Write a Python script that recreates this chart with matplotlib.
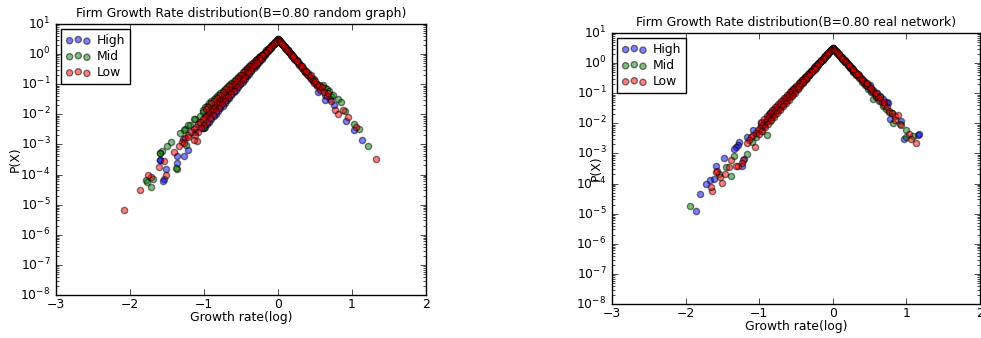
import numpy as np
import matplotlib
matplotlib.use('Agg')
import matplotlib.pyplot as plt

# data: x = growth rate (log), *_lp = log10 of P(X)

# ---------------- random graph ----------------
rg_high_x = [0.0, -0.02, -0.04, -0.06, -0.08, -0.10, -0.12, -0.14, -0.16, -0.18, -0.20, -0.22, -0.24, -0.26,
             -0.28, -0.30, -0.33, -0.36, -0.39, -0.42, -0.45, -0.48, -0.51, -0.54, -0.57, -0.60, -0.63, -0.66,
             -0.69, -0.72, -0.75, -0.78, -0.81, -0.84, -0.87, -0.90, -0.93, -0.96,
             -0.40, -0.50, -0.60, -0.70, -0.80, -0.90,
             -1.00, -1.01, -1.12, -1.22, -1.27, -1.29, -1.36, -1.37, -1.51, -1.54, -1.59, -1.60, -1.55,
             0.01, 0.03, 0.05, 0.07, 0.09, 0.11, 0.13, 0.15, 0.17, 0.19, 0.22, 0.25, 0.28, 0.31, 0.34, 0.37,
             0.40, 0.43, 0.47, 0.52, 0.545, 0.57, 0.64, 0.64, 0.70, 0.75, 0.92, 1.03, 1.14]
rg_high_lp = [0.50, 0.44, 0.38, 0.32, 0.27, 0.21, 0.15, 0.09, 0.03, -0.03, -0.09, -0.15, -0.21, -0.27,
              -0.33, -0.38, -0.47, -0.56, -0.65, -0.74, -0.83, -0.92, -1.00, -1.09, -1.18, -1.27, -1.36, -1.45,
              -1.53, -1.62, -1.71, -1.80, -1.89, -1.98, -2.07, -2.15, -2.24, -2.33,
              -0.55, -0.82, -1.08, -1.35, -1.60, -1.88,
              -2.47, -2.47, -2.59, -3.19, -3.37, -2.83, -3.37, -3.61, -3.83, -4.14, -3.52, -3.50, -4.20,
              0.47, 0.41, 0.35, 0.29, 0.24, 0.18, 0.12, 0.06, 0.00, -0.06, -0.14, -0.23, -0.32, -0.41, -0.50, -0.59,
              -0.68, -0.75, -0.86, -1.03, -1.25, -1.12, -1.36, -1.52, -1.50, -1.69, -2.21, -2.51, -2.85]

rg_mid_x = [0.0, -0.02, -0.04, -0.06, -0.08, -0.10, -0.12, -0.14, -0.16, -0.18, -0.20, -0.22, -0.24, -0.26,
            -0.28, -0.30, -0.33, -0.36, -0.39, -0.42, -0.45, -0.48, -0.51, -0.54, -0.57, -0.60, -0.63, -0.66,
            -0.69, -0.72, -0.75, -0.78, -0.81, -0.84, -0.87, -0.90, -0.93, -0.96, -0.99, -1.02,
            -0.35, -0.45, -0.55, -0.65, -0.75, -0.85, -0.95, -1.05,
            -1.02, -1.05, -0.99, -1.12, -1.13, -1.19, -1.21, -1.24, -1.26, -1.27, -1.32, -1.37, -1.38, -1.45,
            -1.50, -1.57, -1.59, -1.60, -1.69, -1.72, -1.78, -1.77,
            0.01, 0.03, 0.05, 0.07, 0.09, 0.11, 0.13, 0.15, 0.17, 0.19, 0.22, 0.25, 0.28, 0.31, 0.34, 0.37,
            0.40, 0.43, 0.46, 0.49, 0.53, 0.57, 0.61, 0.63, 0.66, 0.69, 0.72, 0.74, 0.81, 0.85, 0.90, 1.03,
            1.09, 1.22]
rg_mid_lp = [0.50, 0.45, 0.40, 0.35, 0.31, 0.26, 0.21, 0.16, 0.12, 0.07, 0.02, -0.03, -0.07, -0.11,
             -0.15, -0.20, -0.26, -0.33, -0.40, -0.47, -0.54, -0.61, -0.68, -0.75, -0.81, -0.88, -0.95, -1.02,
             -1.09, -1.16, -1.23, -1.29, -1.36, -1.43, -1.50, -1.57, -1.64, -1.71, -1.77, -1.85,
             -0.43, -0.69, -0.96, -1.22, -1.49, -1.75, -2.02, -2.28,
             -1.91, -2.05, -2.41, -2.17, -2.17, -2.36, -2.35, -3.02, -2.50, -2.52, -2.63, -3.81, -3.79, -2.91,
             -3.05, -3.23, -3.27, -3.27, -4.14, -4.40, -4.18, -4.24,
             0.47, 0.42, 0.36, 0.30, 0.24, 0.19, 0.13, 0.07, 0.02, -0.04, -0.13, -0.21, -0.30, -0.38, -0.47, -0.55,
             -0.64, -0.73, -0.81, -0.84, -0.98, -1.06, -1.03, -1.12, -1.15, -1.22, -1.40, -1.35, -1.49, -1.60, -1.89, -2.32,
             -2.49, -3.04]

rg_low_x = [0.0, -0.01, -0.03, -0.05, -0.07, -0.09, -0.11, -0.13, -0.15, -0.17, -0.19, -0.21, -0.23, -0.25,
            -0.27, -0.29, -0.31, -0.33, -0.35, -0.37, -0.39, -0.41, -0.43, -0.45, -0.47, -0.49, -0.51, -0.53,
            -0.55, -0.57, -0.59, -0.61, -0.63, -0.65, -0.67, -0.69, -0.71, -0.73, -0.75, -0.77, -0.79, -0.81,
            -0.83, -0.85, -0.87, -0.89, -0.91, -0.93, -0.95, -0.97, -0.99, -1.02, -1.05, -1.08, -1.11, -1.14,
            -1.18, -1.22, -1.26, -1.30,
            -0.02, -0.04, -0.06, -0.08, -0.10, -0.12, -0.14, -0.16, -0.18, -0.20, -0.22, -0.24, -0.26, -0.28,
            -0.30, -0.32, -0.34, -0.36, -0.38, -0.40,
            -0.22, -0.26, -0.30, -0.34, -0.38, -0.42, -0.46, -0.50, -0.54, -0.58, -0.62, -0.66, -0.70, -0.74,
            -0.78, -0.82, -0.86, -0.90, -0.94, -0.98,
            -0.24, -0.28, -0.32, -0.36, -0.40, -0.44, -0.48, -0.52, -0.56, -0.60, -0.64, -0.68, -0.72, -0.76,
            -0.80, -0.84, -0.88, -0.92, -0.96, -1.00, -1.04, -1.08, -1.12,
            -1.09, -1.14, -1.21, -1.27, -1.34, -1.41, -1.51, -1.54, -1.61, -1.72, -1.76, -1.865, -2.08,
            0.01, 0.02, 0.03, 0.05, 0.07, 0.09, 0.11, 0.13, 0.15, 0.17, 0.19, 0.21, 0.23, 0.25, 0.27, 0.29,
            0.31, 0.33, 0.35, 0.37, 0.39, 0.41, 0.43, 0.45, 0.47, 0.49, 0.51, 0.53,
            0.04, 0.06, 0.08, 0.10, 0.12, 0.14, 0.16, 0.18, 0.20, 0.22,
            0.20, 0.26, 0.32, 0.38, 0.44, 0.50, 0.56,
            0.57, 0.60, 0.62, 0.66, 0.68, 0.71, 0.77, 0.81, 0.88, 0.95, 1.06, 1.32]
rg_low_lp = [0.50, 0.47, 0.42, 0.37, 0.32, 0.26, 0.21, 0.16, 0.11, 0.05, 0.00, -0.05, -0.10, -0.16,
             -0.21, -0.26, -0.31, -0.36, -0.42, -0.47, -0.52, -0.57, -0.63, -0.68, -0.73, -0.78, -0.84, -0.89,
             -0.94, -0.99, -1.05, -1.10, -1.15, -1.20, -1.26, -1.31, -1.36, -1.41, -1.47, -1.52, -1.57, -1.62,
             -1.67, -1.73, -1.78, -1.83, -1.88, -1.94, -1.99, -2.04, -2.09, -2.17, -2.25, -2.33, -2.41, -2.49,
             -2.59, -2.70, -2.80, -2.91,
             0.45, 0.40, 0.34, 0.29, 0.24, 0.19, 0.13, 0.08, 0.03, -0.02, -0.08, -0.13, -0.18, -0.23,
             -0.29, -0.34, -0.39, -0.44, -0.50, -0.55,
             -0.02, -0.12, -0.21, -0.31, -0.40, -0.50, -0.59, -0.69, -0.79, -0.88, -0.98, -1.07, -1.17, -1.26,
             -1.36, -1.45, -1.55, -1.64, -1.74, -1.83,
             -0.18, -0.30, -0.41, -0.53, -0.64, -0.75, -0.87, -0.98, -1.10, -1.21, -1.32, -1.44, -1.55, -1.67,
             -1.78, -1.89, -2.01, -2.12, -2.24, -2.35, -2.46, -2.58, -2.69,
             -2.88, -2.85, -2.74, -2.96, -3.05, -3.24, -4.03, -3.55, -3.74, -4.07, -4.03, -4.52, -5.19,
             0.47, 0.44, 0.41, 0.35, 0.29, 0.23, 0.18, 0.12, 0.06, 0.00, -0.06, -0.12, -0.18, -0.24, -0.30, -0.36,
             -0.41, -0.47, -0.53, -0.59, -0.65, -0.71, -0.77, -0.83, -0.89, -0.95, -1.00, -1.06,
             0.38, 0.32, 0.26, 0.21, 0.15, 0.09, 0.03, -0.03, -0.09, -0.15,
             -0.05, -0.22, -0.38, -0.55, -0.71, -0.88, -1.04,
             -1.19, -1.10, -1.25, -1.38, -1.30, -1.55, -1.86, -1.99, -1.86, -2.10, -2.41, -3.47]

# ---------------- real network ----------------
rn_high_x = [0.0, -0.02, -0.04, -0.06, -0.08, -0.10, -0.12, -0.14, -0.16, -0.18, -0.20, -0.22, -0.24, -0.26,
             -0.28, -0.30, -0.33, -0.36, -0.39, -0.42, -0.45, -0.48, -0.51, -0.54, -0.57, -0.60, -0.64, -0.68,
             -0.72, -0.76, -0.80, -0.84, -0.87, -0.90, -0.97, -1.08, -1.17, -1.27, -1.29, -1.32, -1.34, -1.21,
             -1.24, -1.48, -1.59, -1.62, -1.67, -1.73, -1.80, -1.86,
             0.02, 0.04, 0.06, 0.08, 0.10, 0.12, 0.14, 0.16, 0.18, 0.20, 0.23, 0.26, 0.29, 0.32, 0.35, 0.38,
             0.41, 0.44, 0.48, 0.51, 0.55, 0.60, 0.64, 0.68, 0.73, 0.75, 0.78, 0.93, 0.97, 1.16, 1.175]
rn_high_lp = [0.50, 0.45, 0.40, 0.35, 0.30, 0.25, 0.19, 0.15, 0.09, 0.04, -0.01, -0.06, -0.11, -0.16,
              -0.22, -0.26, -0.34, -0.42, -0.49, -0.57, -0.64, -0.72, -0.79, -0.87, -0.94, -1.02, -1.12, -1.22,
              -1.32, -1.43, -1.52, -1.62, -1.70, -1.83, -2.00, -2.22, -2.45, -2.62, -2.72, -2.80, -2.86, -3.20,
              -3.41, -3.16, -3.42, -3.86, -3.88, -4.02, -4.36, -4.90,
              0.45, 0.40, 0.35, 0.30, 0.24, 0.19, 0.14, 0.09, 0.04, -0.02, -0.09, -0.17, -0.25, -0.33, -0.40, -0.48,
              -0.56, -0.63, -0.74, -0.73, -0.88, -1.00, -1.08, -1.18, -1.28, -1.34, -1.87, -1.91, -2.51, -2.39, -2.36]

rn_mid_x = [0.0, -0.02, -0.05, -0.08, -0.11, -0.14, -0.17, -0.20, -0.23, -0.26, -0.29, -0.32, -0.35, -0.38,
            -0.41, -0.44, -0.47, -0.50, -0.54, -0.58, -0.62, -0.66, -0.70, -0.74, -0.78, -0.82, -0.86, -0.90,
            -0.93, -0.98, -1.04, -1.10, -1.16, -1.34, -1.39, -1.45, -1.55, -1.94,
            0.02, 0.05, 0.08, 0.11, 0.14, 0.17, 0.20, 0.24, 0.28, 0.32, 0.36, 0.40, 0.44, 0.48, 0.52, 0.55,
            0.58, 0.63, 0.68, 0.72, 0.76, 0.81, 0.82, 0.91, 0.99, 1.00, 1.09]
rn_mid_lp = [0.50, 0.44, 0.36, 0.27, 0.19, 0.11, 0.02, -0.06, -0.15, -0.23, -0.31, -0.40, -0.48, -0.57,
             -0.65, -0.73, -0.82, -0.90, -1.01, -1.13, -1.23, -1.36, -1.46, -1.57, -1.69, -1.80, -1.93, -2.39,
             -2.08, -2.25, -2.45, -2.62, -3.03, -3.09, -3.74, -3.45, -3.68, -4.75,
             0.44, 0.36, 0.27, 0.19, 0.11, 0.02, -0.06, -0.17, -0.29, -0.40, -0.51, -0.62, -0.74, -0.85, -0.97, -1.20,
             -1.12, -1.27, -1.41, -1.52, -1.63, -1.65, -2.00, -2.02, -2.22, -2.47, -2.42]

rn_low_x = [0.0, -0.01, -0.03, -0.05, -0.07, -0.09, -0.11, -0.13, -0.15, -0.17, -0.19, -0.21, -0.23, -0.25,
            -0.27, -0.29, -0.31, -0.33, -0.35, -0.37, -0.39, -0.41, -0.43, -0.45, -0.47, -0.49, -0.51, -0.53,
            -0.55, -0.57, -0.59, -0.61, -0.63, -0.65, -0.67, -0.69, -0.71, -0.73, -0.75, -0.77, -0.79, -0.81,
            -0.83, -0.85, -0.87, -0.89, -0.91, -0.93, -0.95, -0.97, -0.99, -1.02, -1.05, -1.08, -1.11, -1.14,
            -1.17,
            -0.02, -0.04, -0.06, -0.08, -0.10, -0.12, -0.14, -0.16, -0.18, -0.20, -0.22, -0.24, -0.26, -0.28,
            -0.30, -0.32, -0.34, -0.36, -0.38, -0.40, -0.42, -0.44,
            -0.22, -0.26, -0.30, -0.34, -0.38, -0.42, -0.46, -0.50, -0.54, -0.58, -0.62, -0.66, -0.70, -0.74,
            -0.78, -0.82, -0.86, -0.90, -0.94, -0.98,
            -0.24, -0.28, -0.32, -0.36, -0.40, -0.44, -0.48, -0.52, -0.56, -0.60, -0.64, -0.68, -0.72, -0.76,
            -0.80, -0.84, -0.88, -0.92, -0.96, -1.00,
            -1.06, -1.22, -1.23, -1.29, -1.32, -1.38, -1.41, -1.47, -1.50, -1.53, -1.58, -1.59, -1.64, -1.66,
            0.01, 0.02, 0.03, 0.05, 0.07, 0.09, 0.11, 0.13, 0.15, 0.17, 0.19, 0.21, 0.23, 0.25, 0.27, 0.29,
            0.31, 0.33, 0.35, 0.37, 0.39, 0.41, 0.43, 0.45, 0.47, 0.49, 0.51, 0.53, 0.55, 0.57, 0.59, 0.61,
            0.64, 0.67, 0.70, 0.73, 0.77, 0.80, 0.84, 0.85, 0.89, 0.92, 1.03, 1.06, 1.13,
            0.04, 0.06, 0.08, 0.10, 0.12, 0.14, 0.16, 0.18, 0.20, 0.22, 0.24, 0.26, 0.28, 0.30, 0.32,
            0.22, 0.28, 0.34, 0.40, 0.46, 0.52, 0.58, 0.64, 0.70]
rn_low_lp = [0.50, 0.47, 0.42, 0.37, 0.31, 0.26, 0.21, 0.15, 0.10, 0.04, -0.01, -0.06, -0.12, -0.17,
             -0.22, -0.28, -0.33, -0.38, -0.44, -0.49, -0.55, -0.60, -0.65, -0.71, -0.76, -0.81, -0.87, -0.92,
             -0.97, -1.03, -1.08, -1.13, -1.19, -1.24, -1.30, -1.35, -1.40, -1.46, -1.51, -1.56, -1.62, -1.67,
             -1.72, -1.78, -1.83, -1.89, -1.94, -1.99, -2.05, -2.10, -2.15, -2.23, -2.31, -2.39, -2.47, -2.56,
             -2.64,
             0.45, 0.39, 0.34, 0.29, 0.23, 0.18, 0.12, 0.07, 0.02, -0.04, -0.09, -0.14, -0.20, -0.25,
             -0.30, -0.36, -0.41, -0.46, -0.52, -0.57, -0.63, -0.68,
             -0.05, -0.15, -0.25, -0.35, -0.45, -0.55, -0.65, -0.75, -0.85, -0.95, -1.05, -1.15, -1.25, -1.35,
             -1.45, -1.55, -1.65, -1.75, -1.85, -1.95,
             -0.18, -0.30, -0.41, -0.53, -0.64, -0.75, -0.87, -0.98, -1.10, -1.21, -1.32, -1.44, -1.55, -1.67,
             -1.78, -1.89, -2.01, -2.12, -2.24, -2.35,
             -2.78, -3.22, -3.31, -3.41, -3.42, -3.22, -3.44, -3.68, -3.99, -3.79, -3.57, -3.62, -4.24, -4.13,
             0.47, 0.45, 0.42, 0.37, 0.31, 0.26, 0.21, 0.15, 0.10, 0.04, -0.01, -0.06, -0.12, -0.17, -0.22, -0.28,
             -0.33, -0.38, -0.44, -0.49, -0.55, -0.60, -0.65, -0.71, -0.76, -0.81, -0.87, -0.92, -0.97, -1.03, -1.08, -1.13,
             -1.22, -1.30, -1.38, -1.46, -1.58, -1.65, -1.75, -1.90, -1.72, -2.05, -2.36, -2.53, -2.64,
             0.39, 0.34, 0.29, 0.23, 0.18, 0.12, 0.07, 0.02, -0.04, -0.09, -0.14, -0.20, -0.25, -0.30, -0.36,
             -0.06, -0.21, -0.37, -0.52, -0.67, -0.83, -0.98, -1.13, -1.29]

plt.style.use('classic')
plt.rcParams['font.family'] = ['DejaVu Sans']
plt.rcParams['font.size'] = 8.9

fig = plt.figure(figsize=(9.81, 3.38), dpi=100, facecolor='white')

panels = [
    ([0.0571, 0.1272, 0.3772, 0.8018], 'Firm Growth Rate distribution(B=0.80 random graph)', -0.093,
     (rg_high_x, rg_high_lp), (rg_mid_x, rg_mid_lp), (rg_low_x, rg_low_lp)),
    ([0.6239, 0.1006, 0.3751, 0.8018], 'Firm Growth Rate distribution(B=0.80 real network)', -0.026,
     (rn_high_x, rn_high_lp), (rn_mid_x, rn_mid_lp), (rn_low_x, rn_low_lp)),
]

for rect, title, ylab_x, high, mid, low in panels:
    ax = fig.add_axes(rect)
    for (xs, lps), col, lab in [(high, 'b', 'High'), (mid, 'g', 'Mid'), (low, 'r', 'Low')]:
        ax.scatter(xs, np.power(10.0, lps), s=20, c=col, alpha=0.5,
                   edgecolors='k', linewidths=1.0, label=lab)
    ax.set_yscale('log')
    ax.set_xlim(-3, 2)
    ax.set_ylim(1e-8, 1e1)
    ax.set_title(title, fontsize=8.9)
    ax.set_xlabel('Growth rate(log)', fontsize=8.9, labelpad=0.5)
    ax.set_ylabel('P(X)', fontsize=8.9)
    ax.yaxis.set_label_coords(ylab_x, 0.5)
    ax.tick_params(labelsize=8.9)
    ax.tick_params(axis='x', pad=2)
    ax.legend(loc='upper left', scatterpoints=3, fontsize=8.9, borderaxespad=0.4,
              labelspacing=0.25, handletextpad=0.5)

fig.savefig('out.png', dpi=100, facecolor='white')
